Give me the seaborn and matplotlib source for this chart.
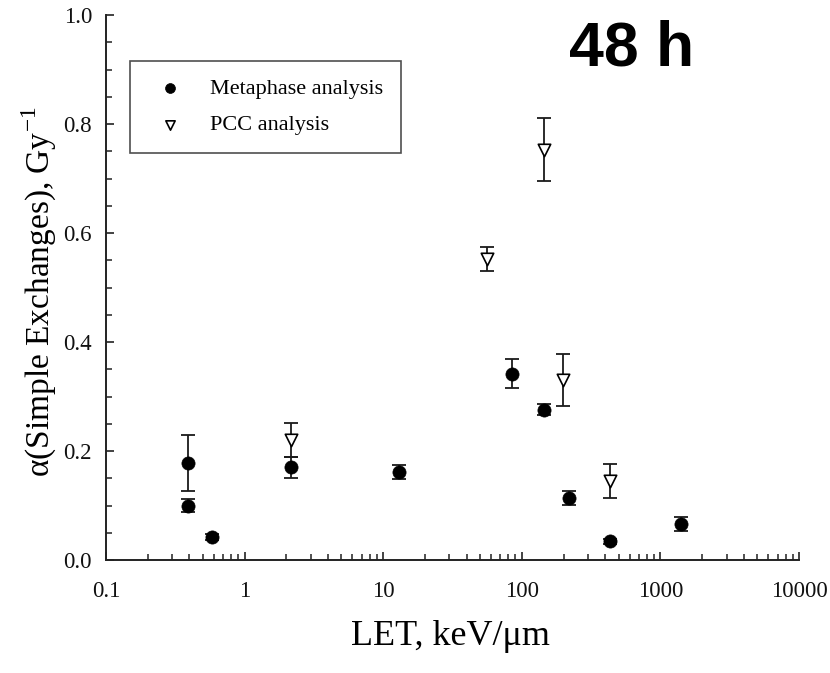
import numpy as np
import pandas as pd
import matplotlib
matplotlib.use("Agg")
import matplotlib.pyplot as plt
from matplotlib.ticker import LogLocator, NullFormatter, MultipleLocator, FixedLocator
import seaborn as sns

# ---- data ----
meta_let = [0.39, 0.39, 0.58, 2.15, 13, 85, 145, 220, 430, 1400]
meta_alpha = [0.178, 0.100, 0.042, 0.170, 0.161, 0.342, 0.276, 0.114, 0.034, 0.066]
meta_err = [0.051, 0.012, 0.005, 0.019, 0.013, 0.027, 0.010, 0.0125, 0.004, 0.012]

pcc_let = [2.15, 56, 145, 198, 430]
pcc_alpha = [0.220, 0.552, 0.753, 0.330, 0.145]
pcc_err = [0.031, 0.022, 0.058, 0.048, 0.031]

x_ticks = [0.1, 1, 10, 100, 1000, 10000]
x_tick_labels = ["0.1", "1", "10", "100", "1000", "10000"]
y_ticks = [0.0, 0.2, 0.4, 0.6, 0.8, 1.0]
y_tick_labels = ["0.0", "0.2", "0.4", "0.6", "0.8", "1.0"]

meta_df = pd.DataFrame({"LET": meta_let, "alpha": meta_alpha, "err": meta_err})
pcc_df = pd.DataFrame({"LET": pcc_let, "alpha": pcc_alpha, "err": pcc_err})

sns.set_theme(style="ticks")
plt.rcParams["font.family"] = ["Liberation Serif", "DejaVu Serif"]
plt.rcParams["mathtext.fontset"] = "custom"
plt.rcParams["mathtext.rm"] = "Liberation Serif"
plt.rcParams["text.color"] = "black"
plt.rcParams["axes.labelcolor"] = "black"

fig = plt.figure(figsize=(8.3, 6.73), dpi=100)
ax = fig.add_axes([106 / 830, 1 - 560 / 673, 693 / 830, 545 / 673])

ecol = "#1a1a1a"
ax.errorbar(meta_df["LET"], meta_df["alpha"], yerr=meta_df["err"], fmt="none",
            ecolor=ecol, elinewidth=1.3, capsize=5, capthick=1.3, zorder=2)
ax.errorbar(pcc_df["LET"], pcc_df["alpha"], yerr=pcc_df["err"], fmt="none",
            ecolor=ecol, elinewidth=1.3, capsize=5, capthick=1.3, zorder=2)

sns.scatterplot(data=meta_df, x="LET", y="alpha", marker="o", s=90, color="black",
                edgecolor="black", linewidth=0.5, ax=ax, label="Metaphase analysis", zorder=3)
sns.scatterplot(data=pcc_df, x="LET", y="alpha", marker="v", s=80, color="white",
                edgecolor="black", linewidth=1.2, ax=ax, label="PCC analysis", zorder=3)

ax.set_xscale("log")
ax.set_xlim(0.1, 10000)
ax.set_ylim(0, 1.0)
ax.xaxis.set_major_locator(FixedLocator(x_ticks))
ax.set_xticklabels(x_tick_labels)
ax.xaxis.set_minor_locator(LogLocator(base=10, subs=range(2, 10), numticks=30))
ax.xaxis.set_minor_formatter(NullFormatter())
ax.set_yticks(y_ticks)
ax.set_yticklabels(y_tick_labels)
ax.yaxis.set_minor_locator(MultipleLocator(0.05))

for side in ["top", "right"]:
    ax.spines[side].set_visible(False)
for side in ["left", "bottom"]:
    ax.spines[side].set_linewidth(1.4)
    ax.spines[side].set_color("#222222")

ax.tick_params(axis="both", which="major", direction="in", length=6, width=1.2,
               color="#222222", labelsize=16.5, labelcolor="#111111")
ax.tick_params(axis="both", which="minor", direction="in", length=4, width=1.1,
               color="#222222")
ax.tick_params(axis="x", which="major", pad=15)
ax.tick_params(axis="y", which="major", pad=10)

ax.set_xlabel("LET, keV/\u03bcm", fontsize=26, color="black")
ax.xaxis.set_label_coords((450 - 106) / 693, (560 - 645) / 545)
ax.xaxis.label.set_va("baseline")
ax.set_ylabel("\u03b1(Simple Exchanges), Gy$^{\\mathregular{-1}}$", fontsize=24, color="black")
ax.yaxis.set_label_coords((50 - 106) / 693, (560 - 292) / 545)
ax.yaxis.label.set_va("baseline")

handles, labels = ax.get_legend_handles_labels()
leg = ax.legend(handles, labels, loc="upper left",
                bbox_to_anchor=((130 - 106) / 693, (560 - 61) / 545),
                fontsize=16, markerscale=0.75, frameon=True, fancybox=False,
                borderpad=0.8, handlelength=2.0, handletextpad=0.8,
                labelspacing=0.7, borderaxespad=0)
leg.get_frame().set_edgecolor("#222222")
leg.get_frame().set_linewidth(1.2)
for t in leg.get_texts():
    t.set_color("black")

fig.text(632 / 830, 1 - 65 / 673, "48 h", fontsize=45, fontweight="bold",
         family="Liberation Sans", ha="center", va="baseline", color="black")

fig.savefig("out.png", dpi=100, facecolor="white")
